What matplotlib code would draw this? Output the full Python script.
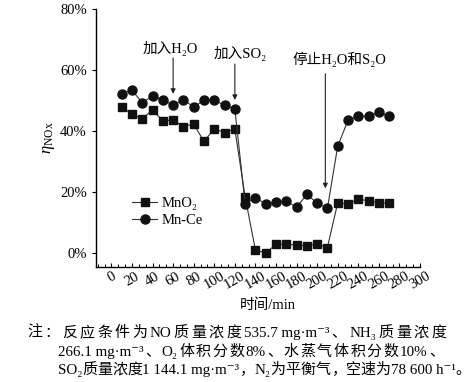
import matplotlib
matplotlib.use("Agg")
import matplotlib.pyplot as plt
from matplotlib.ticker import MultipleLocator, AutoMinorLocator, FuncFormatter

plt.rcParams['font.family'] = ['Liberation Serif', 'Noto Sans CJK SC', 'DejaVu Serif']
plt.rcParams['mathtext.fontset'] = 'custom'
plt.rcParams['mathtext.rm'] = 'Liberation Serif'
plt.rcParams['mathtext.it'] = 'Liberation Serif:italic'

time_min = [10, 20, 30, 40, 50, 60, 70, 80, 90, 100, 110, 120, 130, 140, 150,
            160, 170, 180, 190, 200, 210, 220, 230, 240, 250, 260, 270]
mno2 = [48.0, 45.5, 44.1, 46.9, 43.4, 43.6, 41.5, 42.3, 36.6, 40.8, 39.5, 40.7,
        18.4, 1.0, 0.0, 2.8, 2.9, 2.6, 2.4, 2.9, 1.8,
        16.4, 16.1, 17.6, 17.2, 16.4, 16.4]
mnce = [52.3, 53.4, 49.3, 51.5, 50.2, 48.5, 50.3, 47.9, 50.1, 50.1, 48.5, 47.3,
        16.2, 18.2, 16.1, 16.6, 17.0, 15.0, 19.2, 16.4, 14.6,
        35.0, 43.5, 44.9, 44.9, 46.2, 44.8]
series_labels = ['MnO₂', 'Mn-Ce']

events_x = [60, 120, 208]
events_tip = [52.2, 50.2, 21.2]
events_tail = [64.0, 62.0, 58.8]
events_text = ['加入H₂O', '加入SO₂', '停止H₂O和S₂O']
events_text_x = [57, 125, 222]
events_text_y = [67.2, 65.6, 63.6]

note_lines = [
    '注：反应条件为NO质量浓度535.7 mg·m⁻³、NH₃质量浓度',
    '266.1 mg·m⁻³、O₂体积分数8%、水蒸气体积分数10%、',
    'SO₂质量浓度1 144.1 mg·m⁻³，N₂为平衡气，空速为78 600 h⁻¹。',
]

fig = plt.figure(figsize=(4.74, 3.82), dpi=100)
ax = fig.add_axes([0.2025, 0.301, 0.6835, 0.675])

ax.plot(time_min, mno2, color='#333333', lw=0.8, marker='s', ms=5.8,
        mfc='#111111', mec='#111111', label=series_labels[0])
ax.plot(time_min, mnce, color='#333333', lw=0.8, marker='o', ms=6.5,
        mfc='#111111', mec='#111111', label=series_labels[1])

ax.set_xlim(-15, 300)
ax.set_ylim(-4.6, 80)
ax.spines['top'].set_visible(False)
ax.spines['right'].set_visible(False)
ax.spines['left'].set_linewidth(1.0)
ax.spines['bottom'].set_linewidth(1.0)

ax.xaxis.set_major_locator(MultipleLocator(20))
ax.xaxis.set_minor_locator(AutoMinorLocator(3))
ax.yaxis.set_major_locator(MultipleLocator(20))
ax.yaxis.set_major_formatter(FuncFormatter(lambda v, p: f'{int(round(v))}%'))
ax.tick_params(axis='x', direction='in', length=3, width=0.8, labelsize=10.5, pad=2)
ax.tick_params(axis='x', which='minor', direction='in', length=2, width=0.7)
ax.tick_params(axis='y', direction='out', length=3, width=0.8, labelsize=10.5)
for lab in ax.get_xticklabels():
    lab.set_rotation(30)
    lab.set_ha('center')

ax.set_xlabel('时间/min', fontsize=10.5, va='center')
ax.xaxis.set_label_coords(0.53, -0.147)
ax.set_ylabel(r'$\eta_{\rm NOx}$', fontsize=12, labelpad=2)

for x, tip, tail, t, tx, ty in zip(events_x, events_tip, events_tail,
                                   events_text, events_text_x, events_text_y):
    ax.annotate('', xy=(x, tip), xytext=(x, tail),
                arrowprops=dict(arrowstyle='-|>', color='#222222', lw=0.8,
                                mutation_scale=7, shrinkA=0, shrinkB=0))
    ax.text(tx, ty, t, ha='center', va='center', fontsize=10.5)

ax.legend(loc='upper left', bbox_to_anchor=(0.08, 0.312), frameon=False,
          fontsize=10.5, handlelength=1.7, handletextpad=0.3, labelspacing=0.25,
          borderpad=0.2)


def is_cjk(ch):
    o = ord(ch)
    return (0x3000 <= o <= 0x9FFF) or (0xFF00 <= o <= 0xFFEF)


def tokenize(s):
    toks, cur = [], ''
    for ch in s:
        if is_cjk(ch):
            if cur:
                toks.append(cur)
                cur = ''
            toks.append(ch)
        else:
            cur += ch
    if cur:
        toks.append(cur)
    return toks


renderer = fig.canvas.get_renderer()
W = fig.bbox.width
H = fig.bbox.height
note_fs = 10.8
note_x0 = [27, 58, 58]
note_y = [337, 356, 374]
justify_to = [446, 444, None]
for line, x0, yb, right in zip(note_lines, note_x0, note_y, justify_to):
    toks = tokenize(line)
    widths = []
    for tk in toks:
        t = fig.text(0, 0, tk, fontsize=note_fs)
        widths.append(t.get_window_extent(renderer).width)
        t.remove()
    total = sum(widths)
    gap = 0.0
    if right is not None and len(toks) > 1:
        gap = max(0.0, (right - x0 - total) / (len(toks) - 1))
    x = x0
    for tk, w in zip(toks, widths):
        fig.text(x / W, 1 - yb / H, tk, fontsize=note_fs, ha='left', va='baseline')
        x += w + gap

fig.savefig('out.png', dpi=100)
